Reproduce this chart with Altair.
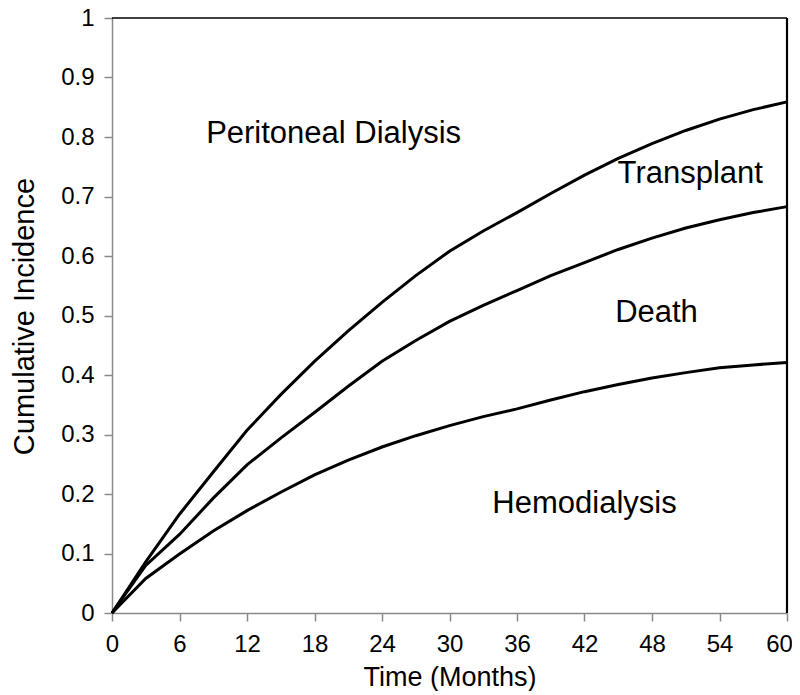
import altair as alt
import pandas as pd

months = [0, 3, 6, 9, 12, 15, 18, 21, 24, 27, 30, 33, 36, 39, 42, 45, 48, 51, 54, 57, 60]
hemodialysis = [0, 0.058, 0.099, 0.138, 0.172, 0.203, 0.232, 0.257, 0.279, 0.298, 0.315,
                0.330, 0.343, 0.358, 0.372, 0.384, 0.395, 0.404, 0.412, 0.417, 0.421]
death = [0, 0.080, 0.132, 0.193, 0.249, 0.294, 0.337, 0.381, 0.423, 0.458, 0.490,
         0.517, 0.542, 0.567, 0.589, 0.611, 0.630, 0.647, 0.661, 0.673, 0.683]
transplant = [0, 0.086, 0.166, 0.237, 0.307, 0.367, 0.423, 0.474, 0.522, 0.567, 0.608,
              0.642, 0.673, 0.705, 0.736, 0.764, 0.789, 0.811, 0.830, 0.846, 0.859]

x_ticks = [0, 6, 12, 18, 24, 30, 36, 42, 48, 54, 60]
y_ticks = [0, 0.1, 0.2, 0.3, 0.4, 0.5, 0.6, 0.7, 0.8, 0.9, 1]

label_text = ["Peritoneal Dialysis", "Transplant", "Death", "Hemodialysis"]
label_t = [19.7, 51.4, 48.4, 42.0]
label_v = [0.805, 0.737, 0.505, 0.183]

rows = []
for name, vals in [("Hemodialysis", hemodialysis), ("Death", death), ("Transplant", transplant)]:
    for t, v in zip(months, vals):
        rows.append({"series": name, "t": t, "v": v})
df = pd.DataFrame(rows)
labels = pd.DataFrame({"text": label_text, "t": label_t, "v": label_v})
edge = pd.DataFrame({"t0": [0], "t1": [60], "v0": [0], "v1": [1]})

FONT = "Liberation Sans"

xscale = alt.Scale(domain=[0, 60], nice=False, zero=False)
yscale = alt.Scale(domain=[0, 1], nice=False)

xaxis = alt.Axis(values=x_ticks, title="Time (Months)", grid=False,
                 labelFontSize=24, titleFontSize=27, labelPadding=11, titlePadding=8,
                 tickSize=8, labelFlush=False,
                 labelOffset={"condition": {"test": "datum.value == 60", "value": -8},
                              "value": 0})
yaxis = alt.Axis(values=y_ticks, title="Cumulative Incidence", grid=False, format="~g",
                 labelFontSize=24, titleFontSize=29, labelPadding=10,
                 tickSize=8, titleX=-88, titleY=298, titleAngle=270,
                 titleBaseline="middle", titleAlign="center")

lines = alt.Chart(df).mark_line(color="black", strokeWidth=3).encode(
    x=alt.X("t:Q", scale=xscale, axis=xaxis),
    y=alt.Y("v:Q", scale=yscale, axis=yaxis),
    detail="series:N",
)

top_rule = alt.Chart(edge).mark_rule(color="black", strokeWidth=1.5).encode(
    x=alt.X("t0:Q", scale=xscale), x2="t1:Q", y=alt.Y("v1:Q", scale=yscale)
)
right_rule = alt.Chart(edge).mark_rule(color="black", strokeWidth=2.2).encode(
    x=alt.X("t1:Q", scale=xscale), y=alt.Y("v0:Q", scale=yscale), y2="v1:Q"
)

text = alt.Chart(labels).mark_text(fontSize=31, font=FONT, color="black",
                                   align="center", baseline="middle").encode(
    x=alt.X("t:Q", scale=xscale), y=alt.Y("v:Q", scale=yscale), text="text:N"
)

chart = alt.layer(lines, top_rule, right_rule, text).properties(
    width=675, height=595,
    autosize=alt.AutoSizeParams(type="none"),
    padding={"left": 104, "top": 10, "right": 5, "bottom": 78},
).configure_view(stroke=None).configure_axis(
    domainColor="#8a8a8a", tickColor="#8a8a8a", domainWidth=1.5, tickWidth=1.5,
    labelColor="black", titleColor="black", labelFont=FONT, titleFont=FONT,
    titleFontWeight="normal",
)

chart.save("out.html", embed_options={"renderer": "svg", "actions": False})
